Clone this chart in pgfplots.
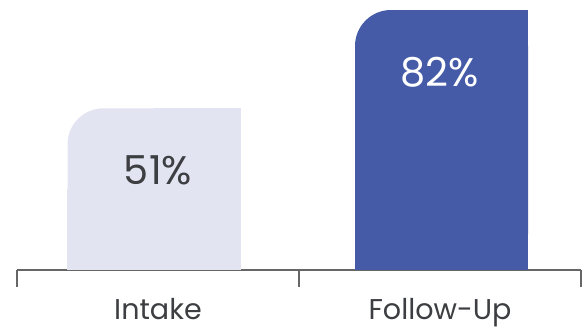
\documentclass[border=0pt]{standalone}
\usepackage{pgfplots}
\pgfplotsset{compat=1.18}
\usepackage{fontspec}
\setmainfont{Poppins}
\definecolor{lightbar}{HTML}{E3E4F2}
\definecolor{darkbar}{HTML}{455BA8}
\definecolor{txt}{HTML}{3C3E41}
\definecolor{axisgray}{HTML}{666666}
\begin{document}
\begin{tikzpicture}
\useasboundingbox (0,0) rectangle (582bp,330bp);
\begin{axis}[
  at={(17bp,60bp)}, anchor=south west,
  scale only axis, width=564bp, height=260bp,
  xmin=-0.5, xmax=1.5, ymin=0, ymax=82,
  axis y line=none, axis x line*=bottom,
  x axis line style={axisgray, line width=1.2bp},
  xtick={-0.5,0.5,1.5}, xticklabels={,,},
  tick align=outside, major tick length=17bp,
  x tick style={axisgray, line width=1.2bp},
  extra x ticks={0,1}, extra x tick labels={Intake,Follow-Up},
  extra x tick style={major tick length=0pt, tick style={draw=none}},
  x tick label style={font=\fontsize{28.7}{31}\selectfont, text=txt, inner sep=0pt, yshift=-28.5bp},
  /pgf/number format/assume math mode=true,
  nodes near coords={\pgfmathprintnumber{\pgfplotspointmeta}\%},
  every node near coord/.append style={anchor=center, yshift=-62bp, font=\fontsize{40}{42}\selectfont},
]
% Intake bar
\addplot[ybar, bar width=87bp, bar shift=-47.25bp, fill=lightbar, draw=none, nodes near coords={}] table[x=x, y expr=\thisrow{v}/2] {
x v
0 51
};
\addplot[ybar, bar width=86.5bp, bar shift=39.25bp, fill=lightbar, draw=none, nodes near coords={}] table[x=x, y=v] {
x v
0 51
};
\addplot[ybar, bar width=173bp, bar shift=-4bp, fill=lightbar, draw=none, rounded corners=36bp, every node near coord/.append style={text=txt}] table[x=x, y=v] {
x v
0 51
};
% Follow-Up bar
\addplot[ybar, bar width=87bp, bar shift=-41.75bp, fill=darkbar, draw=none, nodes near coords={}] table[x=x, y expr=\thisrow{v}/2] {
x v
1 82
};
\addplot[ybar, bar width=86.5bp, bar shift=44.75bp, fill=darkbar, draw=none, nodes near coords={}] table[x=x, y=v] {
x v
1 82
};
\addplot[ybar, bar width=173bp, bar shift=1.5bp, fill=darkbar, draw=none, rounded corners=36bp, every node near coord/.append style={text=white}] table[x=x, y=v] {
x v
1 82
};
\end{axis}
\end{tikzpicture}
\end{document}
